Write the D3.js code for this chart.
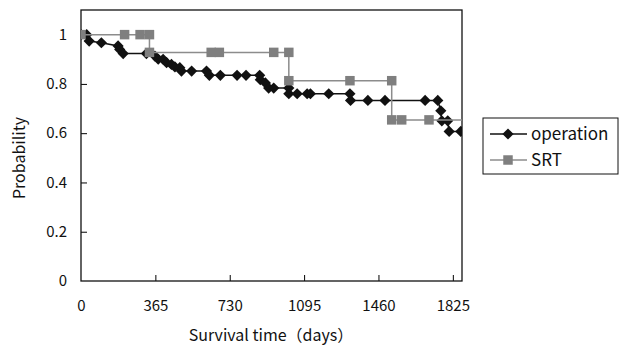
<!DOCTYPE html>
<html>
<head>
<meta charset="utf-8">
<script src="https://cdn.jsdelivr.net/npm/d3@7"></script>
<style>
  body { margin: 0; background: #fff; }
  text { font-family: "Noto Sans CJK JP", "Noto Sans", sans-serif; fill: #111; }
</style>
</head>
<body>
<div id="chart"></div>
<script>
// staircase points as plotted (day, survival probability)
var operation = [
  [0, 1], [28, 1], [40, 0.974], [100, 0.967], [182, 0.954], [190, 0.94],
  [207, 0.923], [321, 0.923], [363, 0.913], [379, 0.9], [403, 0.9],
  [420, 0.886], [444, 0.879], [461, 0.869], [485, 0.866], [493, 0.852],
  [543, 0.852], [616, 0.852], [630, 0.835], [684, 0.835], [766, 0.835],
  [810, 0.835], [877, 0.835], [880, 0.817], [905, 0.804], [921, 0.783],
  [946, 0.783], [1020, 0.783], [1020, 0.76], [1061, 0.76], [1110, 0.76],
  [1126, 0.76], [1216, 0.76], [1320, 0.76], [1323, 0.733], [1408, 0.733],
  [1492, 0.733], [1689, 0.733], [1751, 0.733], [1766, 0.691], [1771, 0.65],
  [1800, 0.65], [1807, 0.607], [1864, 0.607], [1900, 0.607]
];
var srt = [
  [0, 1], [214, 1], [290, 1], [336, 1], [336, 0.928], [639, 0.928],
  [679, 0.928], [946, 0.928], [1020, 0.928], [1020, 0.813], [1320, 0.813],
  [1525, 0.813], [1525, 0.654], [1574, 0.654], [1708, 0.654], [1900, 0.654]
];
var xTicks = [0, 365, 730, 1095, 1460, 1825];
var yTicks = [0, 0.2, 0.4, 0.6, 0.8, 1];
var seriesNames = ["operation", "SRT"];

var W = 627, H = 350;
var margin = {top: 10, right: 165, bottom: 69, left: 81};
var width = W - margin.left - margin.right,
    height = H - margin.top - margin.bottom;

var svg = d3.select('#chart').append('svg')
    .attr('width', W).attr('height', H);
var g = svg.append('g')
    .attr('transform', `translate(${margin.left},${margin.top})`);

var x = d3.scaleLinear().domain([0, 1870]).range([0, width]);
var y = d3.scaleLinear().domain([0, 1.1]).range([height, 0]);

g.append('clipPath').attr('id', 'clip')
  .append('rect').attr('width', width).attr('height', height);

// inward ticks
g.append('g')
  .attr('transform', `translate(0,${height})`)
  .call(d3.axisBottom(x).tickValues(xTicks).tickSize(-6).tickPadding(19)
        .tickFormat(d3.format('d')))
  .call(a => a.select('.domain').remove())
  .call(a => a.selectAll('line').filter(d => d === 0).remove())
  .call(a => a.selectAll('text').attr('font-size', 15));

g.append('g')
  .call(d3.axisLeft(y).tickValues(yTicks).tickSize(-6).tickPadding(14)
        .tickFormat(d => d === 0 || d === 1 ? d : d.toFixed(1)))
  .call(a => a.select('.domain').remove())
  .call(a => a.selectAll('line').filter(d => d === 0).remove())
  .call(a => a.selectAll('text').attr('font-size', 15));

g.append('rect')
  .attr('width', width).attr('height', height)
  .attr('fill', 'none').attr('stroke', '#111').attr('stroke-width', 1.3);

var line = d3.line().x(d => x(d[0])).y(d => y(d[1]));
var diamond = d3.symbol().type(d3.symbolDiamond2).size(80);
var square = d3.symbol().type(d3.symbolSquare).size(90);

var plot = g.append('g').attr('clip-path', 'url(#clip)');

// operation first, SRT sits on top
plot.append('path').datum(operation)
  .attr('fill', 'none').attr('stroke', '#111').attr('stroke-width', 1.5)
  .attr('d', line);
plot.selectAll('.dm').data(operation.filter(d => d[0] < 1870)).enter()
  .append('path').attr('class', 'dm')
  .attr('transform', d => `translate(${x(d[0])},${y(d[1])})`)
  .attr('d', diamond).attr('fill', '#111');

plot.append('path').datum(srt)
  .attr('fill', 'none').attr('stroke', '#8c8c8c').attr('stroke-width', 1.5)
  .attr('d', line);
plot.selectAll('.sq').data(srt.filter(d => d[0] < 1870)).enter()
  .append('path').attr('class', 'sq')
  .attr('transform', d => `translate(${x(d[0])},${y(d[1])})`)
  .attr('d', square).attr('fill', '#7f7f7f');

// axis titles
svg.append('text')
  .attr('x', 271).attr('y', 341).attr('text-anchor', 'middle')
  .attr('font-size', 16).text('Survival time（days）');
svg.append('text')
  .attr('transform', 'translate(25,158) rotate(-90)')
  .attr('text-anchor', 'middle').attr('font-size', 16).text('Probability');

// legend
var lg = svg.append('g').attr('transform', 'translate(483,118)');
lg.append('rect').attr('width', 135).attr('height', 56)
  .attr('fill', '#fff').attr('stroke', '#111').attr('stroke-width', 1);
var items = [
  {name: seriesNames[0], color: '#111', mcolor: '#111', sym: diamond, yy: 16},
  {name: seriesNames[1], color: '#8c8c8c', mcolor: '#7f7f7f', sym: square, yy: 42}
];
items.forEach(it => {
  lg.append('line').attr('x1', 7).attr('x2', 44).attr('y1', it.yy).attr('y2', it.yy)
    .attr('stroke', it.color).attr('stroke-width', 1.5);
  lg.append('path').attr('transform', `translate(25,${it.yy})`)
    .attr('d', it.sym).attr('fill', it.mcolor);
  lg.append('text').attr('x', 48).attr('y', it.yy).attr('dy', '0.36em')
    .attr('font-size', 17).text(it.name);
});
</script>
</body>
</html>
